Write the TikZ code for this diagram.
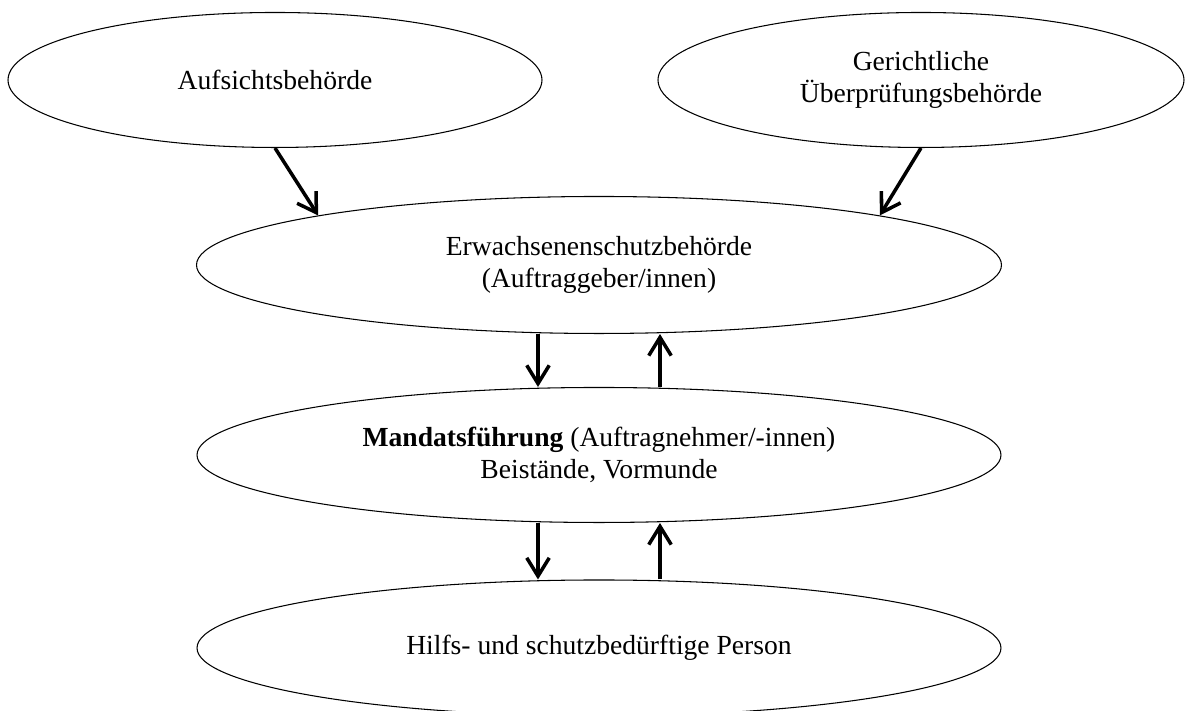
\documentclass[tikz,border=0pt]{standalone}
\usepackage{fontspec}
\setmainfont{Liberation Serif}
\usetikzlibrary{shapes.geometric,arrows.meta}

\begin{document}
\begin{tikzpicture}[line join=round,
  bubble/.style={ellipse,draw,line width=0.3pt,inner sep=0pt,align=center,font=\fontsize{7.85}{9.3}\selectfont},
  flow/.style={line width=1pt,-{Straight Barb[length=5.2pt,width=6.4pt]}}]
  % two supervising bodies on top, then the chain authority - mandate - person
  \useasboundingbox (0,0) rectangle (11.85,7.11);
  \node[bubble,minimum width=5.34cm,minimum height=1.35cm] (aufsicht) at (2.75,6.31) {Aufsichtsbehörde};
  \node[bubble,minimum width=5.26cm,minimum height=1.35cm] (gericht) at (9.21,6.31) {Gerichtliche\\Überprüfungsbehörde};
  \node[bubble,minimum width=8.05cm,minimum height=1.37cm] (ebehoerde) at (5.99,4.46) {Erwachsenenschutzbehörde\\(Auftraggeber/innen)};
  \node[bubble,minimum width=8.04cm,minimum height=1.35cm] (mandat) at (5.99,2.56) {\textbf{Mandatsführung} (Auftragnehmer/-innen)\\Beistände, Vormunde};
  \node[bubble,minimum width=8.04cm,minimum height=1.36cm] (person) at (5.99,0.63) {Hilfs- und schutzbedürftige Person};
  \draw[flow] (aufsicht.south) -- (ebehoerde.170);
  \draw[flow] (gericht.south) -- (ebehoerde.10);
  \foreach \a/\b in {ebehoerde/mandat,mandat/person}{
    \draw[flow] ([xshift=-0.61cm]\a.south) -- ([xshift=-0.61cm]\b.north);
    \draw[flow] ([xshift=0.61cm]\b.north) -- ([xshift=0.61cm]\a.south);
  }
\end{tikzpicture}
\end{document}
